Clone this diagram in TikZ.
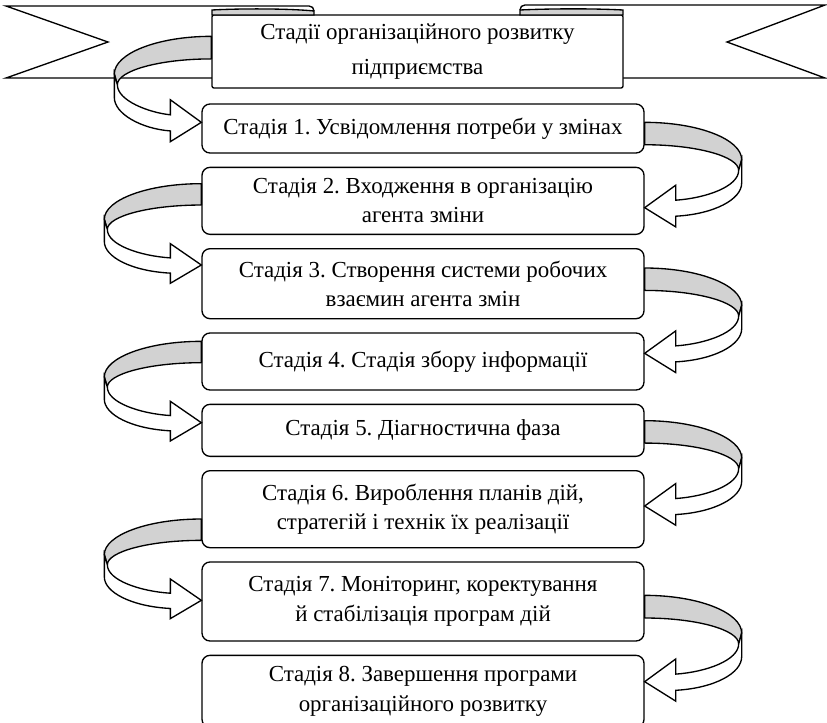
\documentclass[tikz,border=0pt]{standalone}
\usepackage{fontspec}
\setmainfont{Liberation Serif}
\usepackage{tikz}
\usetikzlibrary{positioning,calc}
\frenchspacing
\tikzset{
    stage box/.style={
        draw=black,
        line width=1pt,
        rounded corners=6pt,
        fill=white,
        minimum width=331.5pt,
        align=center,
        font=\fontsize{17.2}{22}\selectfont,
        inner sep=3pt
    },
    title box/.style={stage box, rounded corners=1.5pt, minimum width=308.25pt, minimum height=54.75pt,
        font=\fontsize{17.2}{26}\selectfont},
    ribbon wing/.style={draw=black, line width=1pt, line join=miter},
    ribbon fold/.style={draw=black, line width=1pt, fill=gray!35},
    curl back/.style={draw=black, line width=1pt, fill=gray!35, line join=round},
    curl front/.style={draw=black, line width=1pt, fill=white, line join=miter}
}
% #1 start of the band, #2 tip of the arrow, #3 side (1 right, -1 left)
\newcommand{\curlarrow}[3]{%
    \path (#1); \pgfgetlastxy{\curlsx}{\curlsy}%
    \path (#2); \pgfgetlastxy{\curltx}{\curlty}%
    \pgfmathsetmacro{\curlk}{((\curlsy)-(\curlty))/80}%
    \pgfmathsetmacro{\curlu}{0.75*#3}%
    \pgfmathsetmacro{\curld}{((\curltx)-(\curlsx))/\curlu}%
    \begin{scope}[shift={(#1)}, x=\curlu pt, y=-\curlk pt]
        \draw[curl back] (0,0) .. controls (54,0) and (97,16) .. (97,35) -- (94,45)
            .. controls (94,32) and (52,21) .. (0,21) -- cycle;
        \draw[curl front] (97,35) -- (97,57) .. controls (97,72) and (70,86) .. ({\curld+31},88)
            -- ({\curld+31},98) -- (\curld,80) -- ({\curld+31},59) -- ({\curld+31},73)
            .. controls (62,71) and (94,60) .. (94,45) -- cycle;
    \end{scope}}
\begin{document}
\begin{tikzpicture}[x=0.75pt, y=-0.75pt, node distance=9.75pt]
\useasboundingbox (0,0) rectangle (827,722);

% Ribbon behind the title
\draw[ribbon wing] (212,78) -- (6,78) -- (108,42) -- (6,6) -- (309,6) .. controls (312,6) and (314,8) .. (314,11);
\draw[ribbon wing] (623,78) -- (825,78) -- (727,42) -- (825,5) -- (525,5) .. controls (522,5) and (520,7) .. (520,10);
\node[title box] (banner) at (417.5,51.5) {Стадії організаційного розвитку\\підприємства};
\draw[ribbon fold] (212,15) -- (212,10) .. controls (250,8) and (295,9) .. (314,11) -- (314,15) -- cycle;
\draw[ribbon fold] (623,15) -- (623,10) .. controls (585,8) and (540,9) .. (520,10) -- (520,15) -- cycle;

% Stages
\node[stage box, minimum height=36.75pt] (b1) at (423,128.5) {Стадія 1. Усвідомлення потреби у змінах};
\node[stage box, minimum height=50.25pt, below=of b1] (b2) {Стадія 2. Входження в організацію\\агента зміни};
\node[stage box, minimum height=52.5pt, below=of b2] (b3) {Стадія 3. Створення системи робочих\\взаємин агента змін};
\node[stage box, minimum height=42.75pt, below=of b3] (b4) {Стадія 4. Стадія збору інформації};
\node[stage box, minimum height=39pt, below=of b4] (b5) {Стадія 5. Діагностична фаза};
\node[stage box, minimum height=57.75pt, below=of b5] (b6) {Стадія 6. Вироблення планів дій,\\стратегій і технік їх реалізації};
\node[stage box, minimum height=59.25pt, below=of b6] (b7) {Стадія 7. Моніторинг, коректування\\й стабілізація програм дій};
\node[stage box, minimum height=54pt, below=of b7] (b8) {Стадія 8. Завершення програми\\організаційного розвитку};

% Curled arrows, alternating sides
\curlarrow{[yshift=-16.5pt]banner.north west}{[yshift=-14.25pt]b1.north west}{-1}
\curlarrow{[yshift=-14.25pt]b1.north east}{[yshift=-30.75pt]b2.north east}{1}
\curlarrow{[yshift=-12.75pt]b2.north west}{[yshift=-12.75pt]b3.north west}{-1}
\curlarrow{[yshift=-15pt]b3.north east}{[yshift=-15.75pt]b4.north east}{1}
\curlarrow{[yshift=-6.75pt]b4.north west}{[yshift=-14.25pt]b5.north west}{-1}
\curlarrow{[yshift=-12.75pt]b5.north east}{[yshift=-27pt]b6.north east}{1}
\curlarrow{[yshift=-36.75pt]b6.north west}{[yshift=-29.25pt]b7.north west}{-1}
\curlarrow{[yshift=-25.5pt]b7.north east}{[yshift=-20.25pt]b8.north east}{1}
\end{tikzpicture}
\end{document}
